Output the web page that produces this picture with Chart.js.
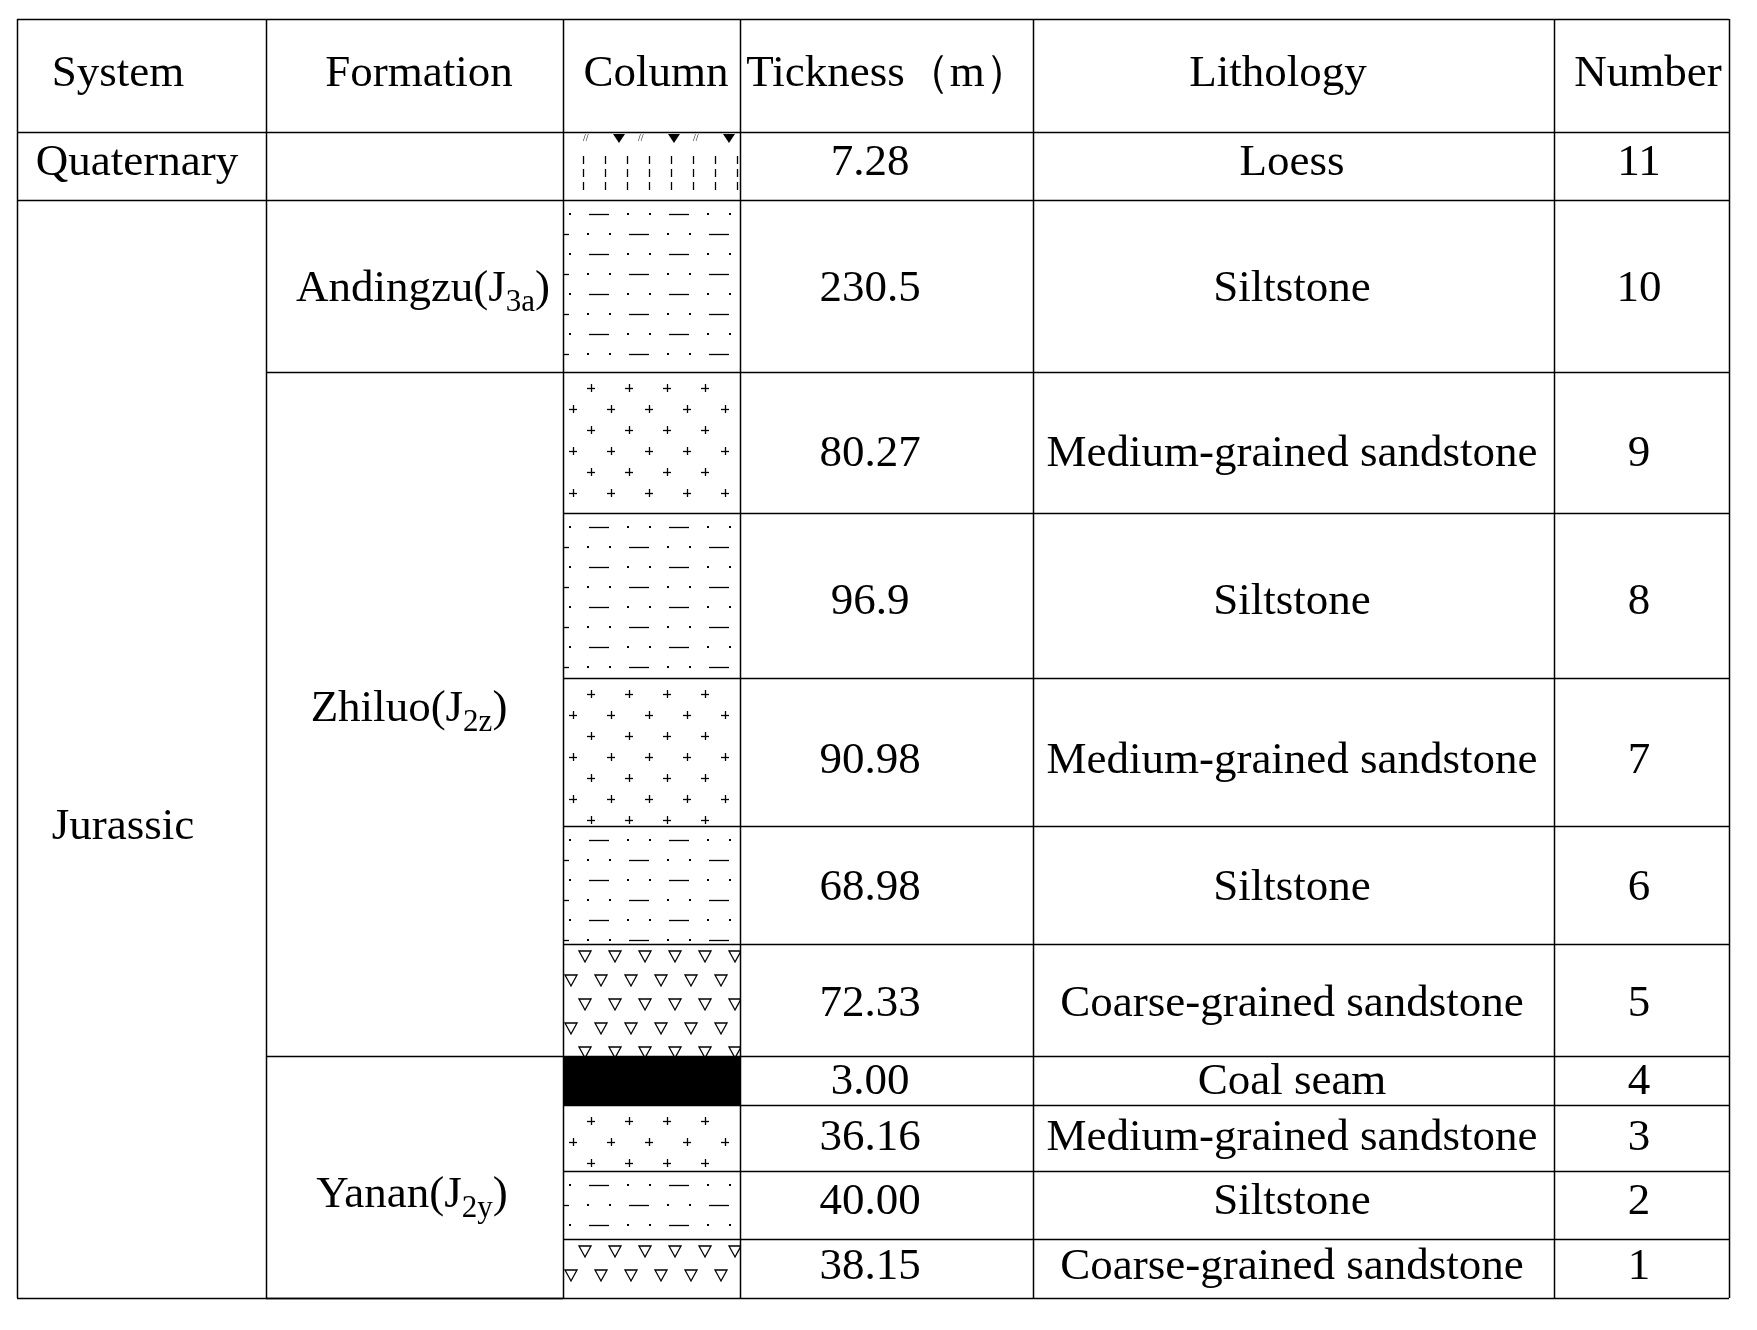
<!DOCTYPE html>
<html>
<head>
<meta charset="utf-8">
<script src="https://cdn.jsdelivr.net/npm/chart.js@4"></script>
<style>
  body { margin: 0; background: #fff; }
  canvas { display: block; }
</style>
</head>
<body>
<canvas id="chart" width="1757" height="1330"></canvas>
<script>
(function () {
  'use strict';

  // table grid, in canvas units
  const colEdges = [17, 266, 563, 740, 1033, 1554, 1729];
  const rowEdges = [19, 132, 200, 372, 513, 678, 826, 944, 1056, 1105, 1171, 1239, 1298];

  const headers = ['System', 'Formation', 'Column', 'Tickness（m）', 'Lithology', 'Number'];
  const thickness = ['7.28', '230.5', '80.27', '96.9', '90.98', '68.98', '72.33', '3.00', '36.16', '40.00', '38.15'];
  const lithology = ['Loess', 'Siltstone', 'Medium-grained sandstone', 'Siltstone', 'Medium-grained sandstone',
    'Siltstone', 'Coarse-grained sandstone', 'Coal seam', 'Medium-grained sandstone', 'Siltstone', 'Coarse-grained sandstone'];
  const numbers = ['11', '10', '9', '8', '7', '6', '5', '4', '3', '2', '1'];
  const patterns = ['loess', 'silt', 'medium', 'silt', 'medium', 'silt', 'coarse', 'coal', 'medium', 'silt', 'coarse'];
  const textY = [163, 289, 454, 602, 761, 888, 1004, 1082, 1138, 1202, 1267];

  // formations: [name, subscript, tail, first row, last row (inclusive)]
  const formations = [['Andingzu(J', '3a', ')', 1, 1], ['Zhiluo(J', '2z', ')', 2, 6], ['Yanan(J', '2y', ')', 7, 10]];
  const formationPos = [[423, 289], [409, 709], [412, 1195]];

  const FONT = '45px "Liberation Serif", "Times New Roman", serif';
  const SUB = '31px "Liberation Serif", "Times New Roman", serif';

  function hline(ctx, x1, x2, y) {
    ctx.beginPath(); ctx.moveTo(x1, y + 0.5); ctx.lineTo(x2, y + 0.5); ctx.stroke();
  }
  function vline(ctx, x, y1, y2) {
    ctx.beginPath(); ctx.moveTo(x + 0.5, y1); ctx.lineTo(x + 0.5, y2); ctx.stroke();
  }

  function drawPattern(ctx, kind, x1, x2, y1, y2) {
    ctx.save();
    ctx.beginPath(); ctx.rect(x1, y1, x2 - x1, y2 - y1); ctx.clip();
    ctx.fillStyle = '#000'; ctx.strokeStyle = '#000'; ctx.lineWidth = 1.3;
    if (kind === 'coal') {
      ctx.fillRect(x1, y1, x2 - x1, y2 - y1);
    } else if (kind === 'silt') {
      let r = 0;
      for (let y = y1 + 14; y < y2; y += 20, r++) {
        const off = r % 2 ? -40 : 0;
        for (let x = x1 + off; x < x2; x += 80) {
          ctx.fillRect(x + 6, y - 1, 2, 2);
          hline(ctx, x + 26, x + 46, y);
          ctx.fillRect(x + 64, y - 1, 2, 2);
        }
      }
    } else if (kind === 'medium') {
      let r = 0;
      for (let y = y1 + 16; y < y2; y += 21, r++) {
        const off = r % 2 ? 10 : 28;
        for (let x = x1 + off; x < x2; x += 38) {
          hline(ctx, x - 4, x + 4, y); vline(ctx, x, y - 4, y + 4);
        }
      }
    } else if (kind === 'coarse') {
      let r = 0;
      for (let y = y1 + 12; y < y2; y += 24, r++) {
        const off = r % 2 ? 8 : 22;
        for (let x = x1 + off; x < x2; x += 30) {
          ctx.beginPath(); ctx.moveTo(x - 6, y - 5); ctx.lineTo(x + 6, y - 5); ctx.lineTo(x, y + 6); ctx.closePath(); ctx.stroke();
        }
      }
    } else if (kind === 'loess') {
      for (let x = x1 + 20; x < x2; x += 22) {
        for (let y = y1 + 24; y < y2 - 6; y += 13) vline(ctx, x, y, y + 8);
      }
      for (let i = 0; i < 4; i++) {
        const x = x1 + 20 + i * 55;
        ctx.beginPath(); ctx.moveTo(x + 30, y1 + 2); ctx.lineTo(x + 42, y1 + 2); ctx.lineTo(x + 36, y1 + 11); ctx.closePath(); ctx.fill();
        ctx.font = '10px serif'; ctx.fillText('//', x, y1 + 9);
      }
    }
    ctx.restore();
  }

  function textWithSub(ctx, main, sub, tail, cx, cy) {
    ctx.font = FONT; const w1 = ctx.measureText(main).width; const w3 = ctx.measureText(tail).width;
    ctx.font = SUB; const w2 = ctx.measureText(sub).width;
    let x = cx - (w1 + w2 + w3) / 2;
    ctx.textAlign = 'left';
    ctx.font = FONT; ctx.fillText(main, x, cy); x += w1;
    ctx.font = SUB; ctx.fillText(sub, x, cy + 14); x += w2;
    ctx.font = FONT; ctx.fillText(tail, x, cy);
    ctx.textAlign = 'center';
  }

  const tablePlugin = {
    id: 'strataTable',
    afterDraw(chart) {
      const ctx = chart.ctx;
      const X = (v) => Math.round(chart.scales.x.getPixelForValue(v));
      const Y = (v) => Math.round(chart.scales.y.getPixelForValue(v));
      const xs = colEdges.map(X); const ys = rowEdges.map(Y);
      ctx.save();

      for (let i = 0; i < patterns.length; i++) {
        drawPattern(ctx, patterns[i], xs[2], xs[3], ys[i + 1], ys[i + 2]);
      }

      ctx.strokeStyle = '#000'; ctx.lineWidth = 1.5;
      hline(ctx, xs[0], xs[6], ys[0]); hline(ctx, xs[0], xs[6], ys[12]);
      hline(ctx, xs[0], xs[6], ys[1]); hline(ctx, xs[0], xs[6], ys[2]);
      colEdges.forEach((c, i) => vline(ctx, xs[i], ys[0], ys[12]));
      for (let r = 3; r < 12; r++) hline(ctx, xs[2], xs[6], ys[r]);
      formations.forEach((f) => hline(ctx, xs[1], xs[2], ys[f[4] + 2]));

      ctx.fillStyle = '#000'; ctx.textAlign = 'center'; ctx.textBaseline = 'middle'; ctx.font = FONT;
      const hx = [118, 419, 656, 888, 1278, 1648];
      headers.forEach((h, i) => ctx.fillText(h, X(hx[i]), Y(74)));
      ctx.fillText('Quaternary', X(137), Y(163));
      ctx.fillText('Jurassic', X(123), Y(827));
      formations.forEach((f, i) => textWithSub(ctx, f[0], f[1], f[2], X(formationPos[i][0]), Y(formationPos[i][1])));
      for (let i = 0; i < thickness.length; i++) {
        ctx.fillText(thickness[i], X(870), Y(textY[i]));
        ctx.fillText(lithology[i], X(1292), Y(textY[i]));
        ctx.fillText(numbers[i], X(1639), Y(textY[i]));
      }
      ctx.restore();
    },
  };

  new Chart(document.getElementById('chart'), {
    type: 'scatter',
    data: { datasets: [{ data: [] }] },
    options: {
      responsive: false,
      devicePixelRatio: 1,
      animation: false,
      layout: { padding: 0 },
      plugins: { legend: { display: false }, tooltip: { enabled: false } },
      scales: {
        x: { type: 'linear', min: 0, max: 1757, display: false },
        y: { type: 'linear', min: 0, max: 1330, reverse: true, display: false },
      },
    },
    plugins: [tablePlugin],
  });
})();
</script>
</body>
</html>
